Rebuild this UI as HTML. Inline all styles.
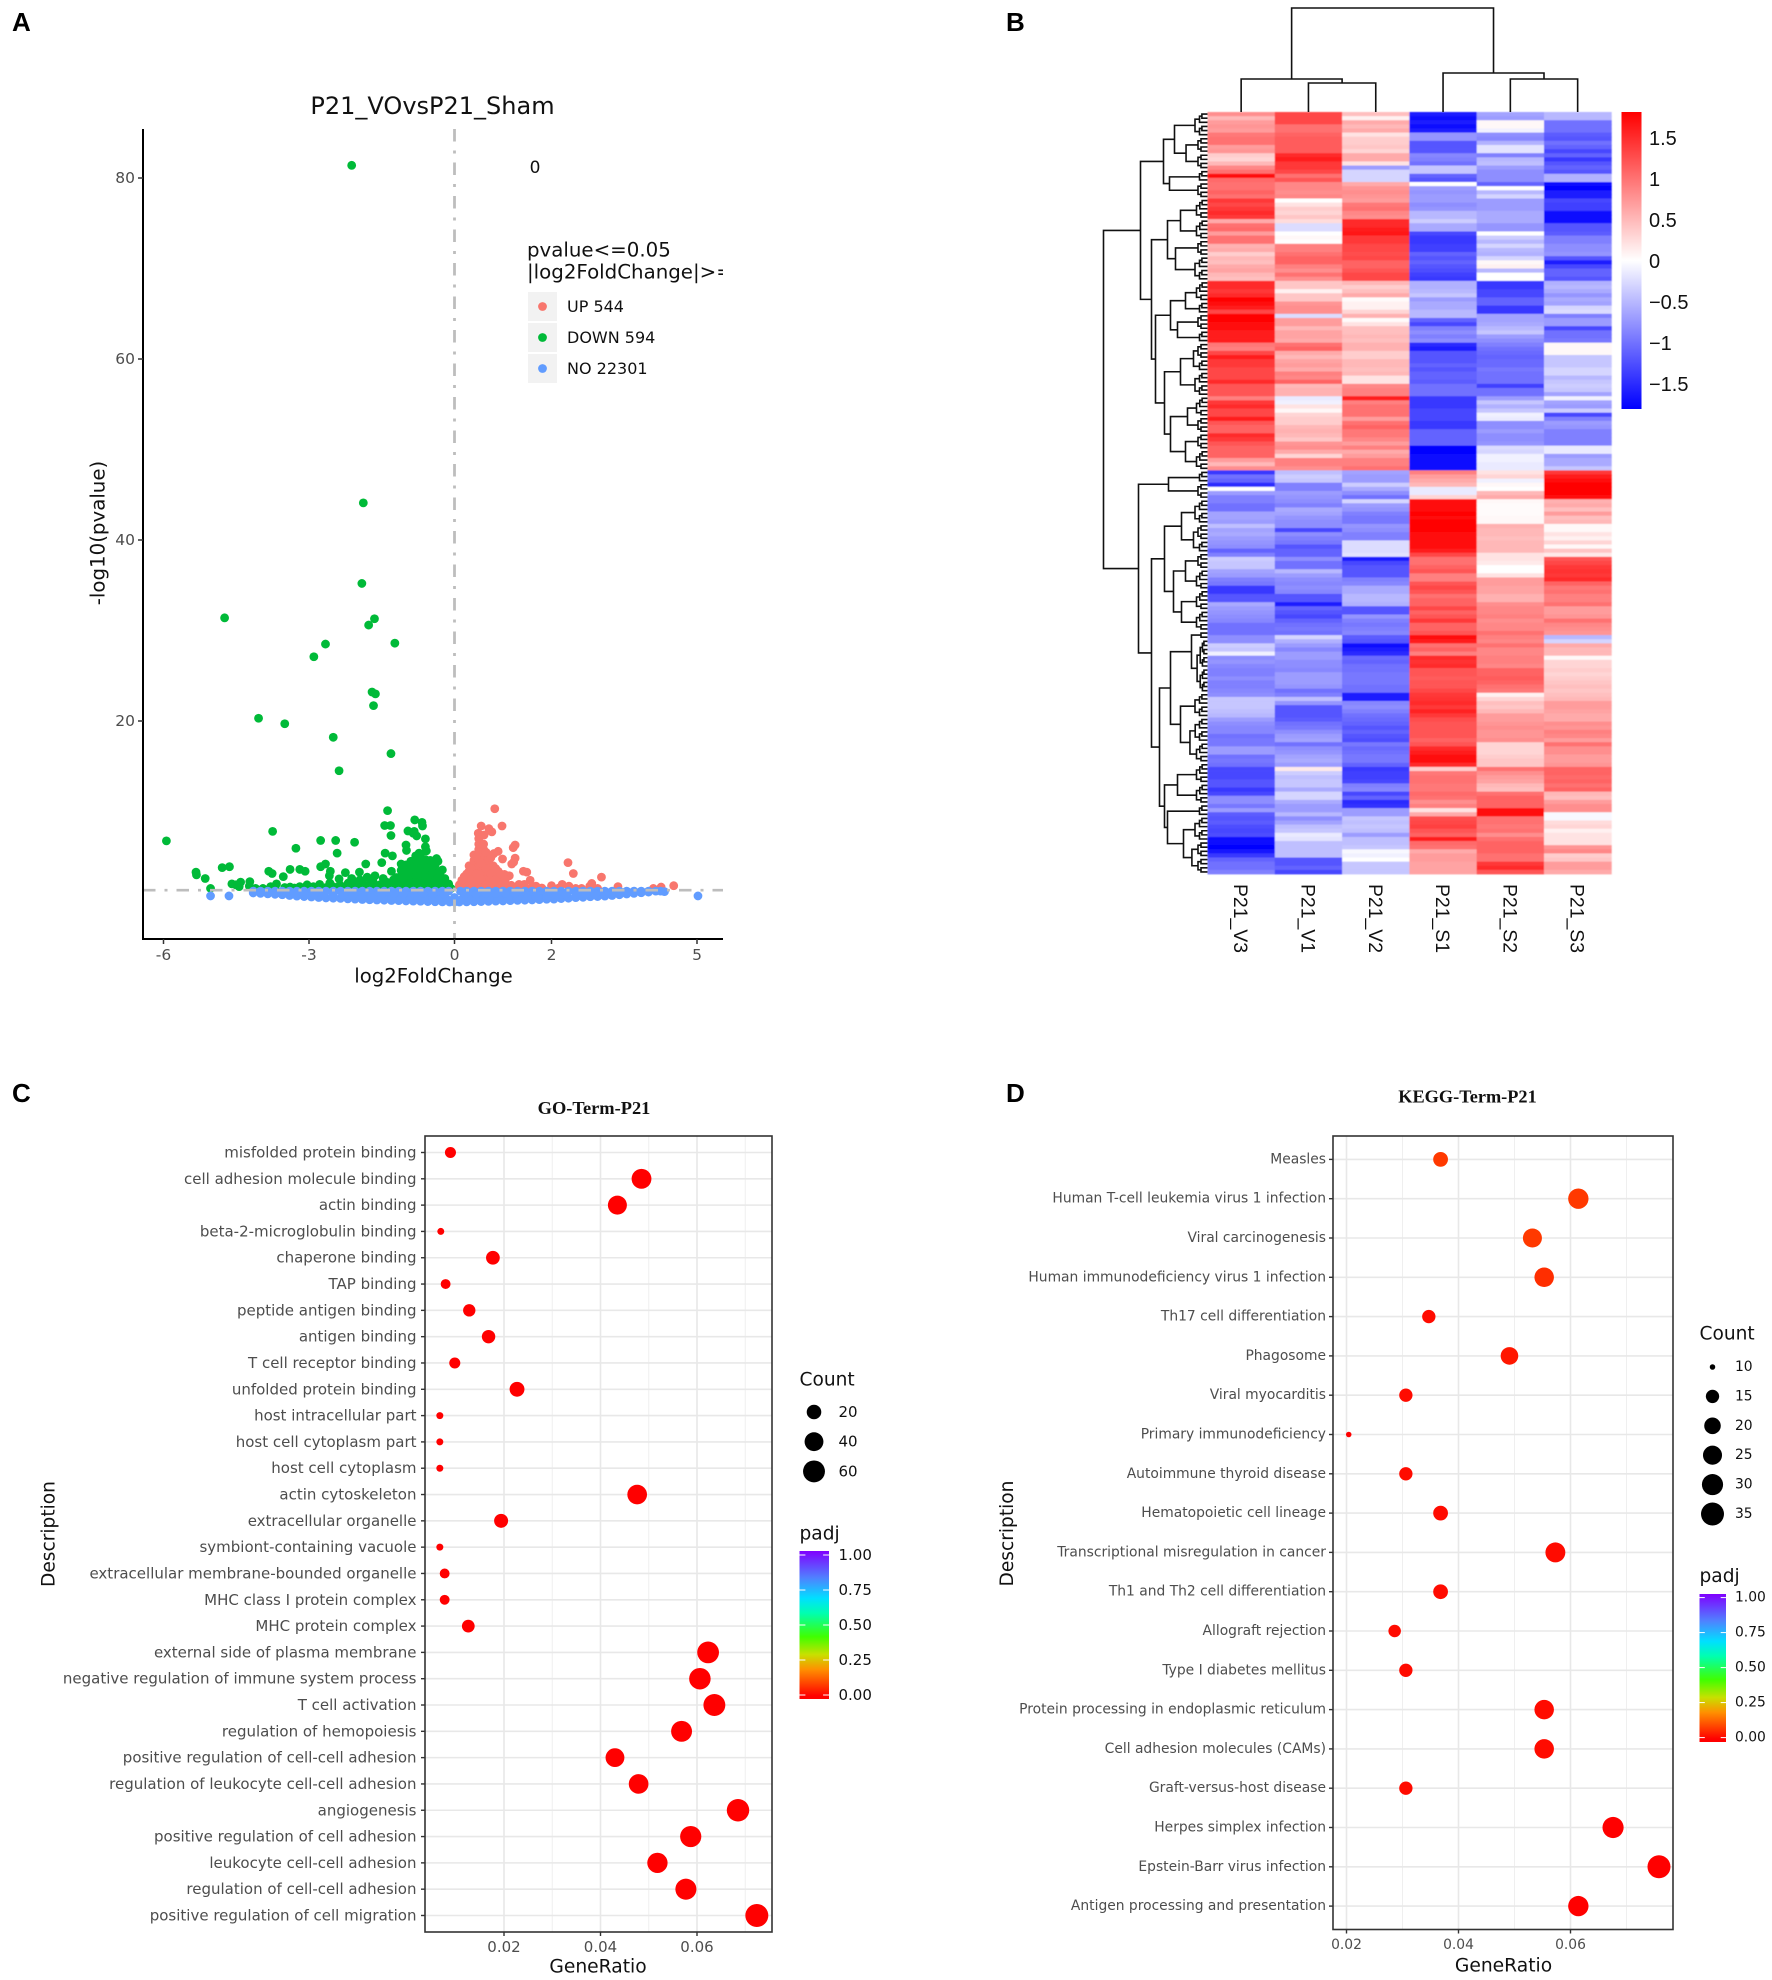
<!DOCTYPE html>
<html lang="en">
<head>
<meta charset="utf-8">
<title>P21 VO vs Sham figure</title>
<style>
html,body{margin:0;padding:0;background:#fff}
svg{display:block}
text{font-family:"DejaVu Sans",sans-serif}
.helv{font-family:"Liberation Sans",sans-serif}
</style>
</head>
<body>
<svg id="fig" xmlns="http://www.w3.org/2000/svg" width="1772" height="1980" viewBox="0 0 1772 1980">
<rect width="1772" height="1980" fill="#fff"/>
<defs>
<clipPath id="legClip"><rect x="500" y="230" width="223" height="60"/></clipPath>
<filter id="soft" x="-2%" y="-2%" width="104%" height="104%"><feGaussianBlur stdDeviation="0.6"/></filter>
<linearGradient id="heatGrad" x1="0" y1="0" x2="0" y2="1"><stop offset="0" stop-color="#ff0000"/><stop offset="0.5" stop-color="#ffffff"/><stop offset="1" stop-color="#0000ff"/></linearGradient>
<linearGradient id="rainbowGrad" x1="0" y1="1" x2="0" y2="0"><stop offset="0.02" stop-color="#ff0000"/><stop offset="0.2" stop-color="#ff9000"/><stop offset="0.3" stop-color="#c8e000"/><stop offset="0.42" stop-color="#40ff00"/><stop offset="0.58" stop-color="#00ffb0"/><stop offset="0.68" stop-color="#00e0ff"/><stop offset="0.82" stop-color="#5080ff"/><stop offset="1" stop-color="#8000ff"/></linearGradient>
</defs>
<g font-weight="bold" font-size="26" fill="#000">
<text class="helv" x="12" y="31">A</text>
<text class="helv" x="1006" y="31">B</text>
<text class="helv" x="12" y="1102">C</text>
<text class="helv" x="1006" y="1102">D</text>
</g>
<g id="volcano"></g>
<g id="heatmap"></g>
<g id="goPlot"></g>
<g id="keggPlot"></g>
</svg>
<script>
/* ---------- Volcano data: [log2FoldChange, -log10(pvalue)] ---------- */
const volcanoXTicks = [-6,-3,0,2,5];
const volcanoYTicks = [20,40,60,80];
const downPoints = [[-2.12,81.4],[-1.88,44.1],[-1.91,35.2],[-1.65,31.3],[-1.77,30.6],[-1.23,28.6],[-2.66,28.5],[-2.9,27.1],[-4.74,31.4],[-1.7,23.2],[-1.63,23],[-1.67,21.7],[-4.04,20.3],[-3.5,19.7],[-2.5,18.2],[-1.31,16.4],[-2.38,14.5],
[-5.94,6.75],[-3.75,7.8],[-3.27,5.94],[-5.33,3.3],[-5.32,3],[-5.14,2.6],[-5.03,1.5],[-4.79,3.8],[-4.64,3.9],[-4.59,2],[-4.51,1.9],[-4.41,2.2],[-4.44,1.7],[-4.22,2.25],[-4.23,1.75],[-3.83,3.4],[-3.76,3.15],[-3.67,2],[-3.79,1.7],
[-3.53,2.8],[-3.39,3.6],[-3.19,3.6],[-3.08,3.4],[-2.76,3.9],[-2.66,4.2],[-2.56,3.4],[-2.58,2.9],[-2.38,2.55],[-2.25,3.25],[-2.12,2.6],[-1.96,3.3],[-1.83,4.2],[-1.8,2.75],[-1.64,2.9],[-1.5,4.35],[-1.3,3.4],[-3.19,1.7],[-3.04,1.9],[-2.78,1.95],[-2.36,1.9],[-2.19,2.1],[-2.05,2.1],[-1.88,2],[-1.68,2.25],[-1.47,2.6],[-1.26,2.45],[-2.57,2.1],[-2.91,1.7],[-3.39,1.65],[-1.95,2.45],[-1.75,1.9],[-1.54,1.9],[-1.33,1.9],[-2.5,1.7],
[-1.38,10.1],[-1.44,8.45],[-1.32,8.45],[-1.31,7.35],[-1.43,5.4],[-1.28,5.1],[-.82,9.07],[-.67,8.8],[-.66,8.4],[-.96,7.85],[-.85,7.6],[-.78,7.3],[-.83,7.8],[-.6,6.97],[-1,6.3],[-.99,5.7],[-.6,6.1],[-.58,5.65],[-.73,5.4],[-.37,4.8],[-.34,4.5],[-.25,3.55],[-2.76,6.8],[-2.45,6.8],[-2.06,6.6],[-2.42,5.4],
[-1.1,1.7],[-1.1,2.3],[-1.1,2.9],[-1.1,3.5],[-1.1,4.2],[-1,1.7],[-1,2.3],[-1,2.9],[-1,3.5],[-1,4.1],[-.9,1.7],[-.9,2.3],[-.9,2.9],[-.9,3.5],[-.9,4.1],[-.9,4.5],[-.8,1.7],[-.8,2.3],[-.8,2.9],[-.8,3.5],[-.8,4.1],[-.8,4.7],[-.8,5.1],[-.7,1.7],[-.7,2.3],[-.7,2.9],[-.7,3.5],[-.7,4.1],[-.7,4.7],[-.7,5.3],[-.6,1.7],[-.6,2.3],[-.6,2.9],[-.6,3.5],[-.6,4.1],[-.6,4.7],[-.5,1.7],[-.5,2.3],[-.5,2.9],[-.5,3.5],[-.5,4.1],[-.5,4.6],[-.4,1.7],[-.4,2.3],[-.4,2.9],[-.4,3.5],[-.4,4.1],[-.3,1.7],[-.3,2.3],[-.3,2.9],[-.3,3.4],[-.2,1.6],[-.2,2.1],[-.2,2.6],[-.12,1.6],[-.12,2],
[-1.2,1.6],[-1.2,2.1],[-1.2,2.7],[-1.3,1.6],[-1.4,1.6],[-1.4,2.2],[-1.5,1.6],[-1.6,1.7],[-1.7,1.6],[-1.85,1.6],[-2,1.6],[-2.15,1.6],[-2.3,1.6],[-2.45,1.55],[-2.65,1.6],[-2.8,1.55],[-3,1.55],[-3.3,1.55],[-3.5,1.6],[-3.7,1.55],[-3.95,1.5],[-4.1,1.5],[-.07,1.5],[-1.05,2.6],[-.95,3.2],[-.85,3.8],[-.75,4.4],[-.65,4.4],[-.55,3.8],[-.45,3.2],[-.35,2.6],[-.25,2],[-.15,1.8]];
const upPoints = [[.83,10.3],[.98,8.4],[.55,8.4],[.49,7.6],[.71,8.1],[.77,7.75],[.61,7.4],[1.25,6.3],[1.21,6],[.9,5.6],[.81,5.35],[.99,4.75],[1.25,4.85],[1.22,4.4],[1.18,4.2],[1.42,3.4],[1.49,3.3],[1.03,3.05],[1.13,2.9],[2.34,4.35],[2.45,3.15],[3.03,2.75],[2.83,2.05],[2.79,1.75],[1.56,2.4],[1.44,1.95],[1.33,1.95],[1.68,1.75],[2,1.8],[2.22,1.95],[2.36,1.75],[3.37,1.7],[2.62,1.5],[4.1,1.5],[4.26,1.65],[4.52,1.8],[1,1.95],[1.17,1.85],[2.95,1.5],
[.1,1.6],[.1,1.9],[.2,1.6],[.2,2.2],[.2,2.8],[.3,1.6],[.3,2.2],[.3,2.8],[.3,3.4],[.3,4],[.4,1.6],[.4,2.2],[.4,2.8],[.4,3.4],[.4,4],[.4,4.6],[.4,5.2],[.5,1.6],[.5,2.2],[.5,2.8],[.5,3.4],[.5,4],[.5,4.6],[.5,5.2],[.5,5.8],[.5,6.4],[.5,7],[.6,1.6],[.6,2.2],[.6,2.8],[.6,3.4],[.6,4],[.6,4.6],[.6,5.2],[.6,5.8],[.6,6.4],[.7,1.6],[.7,2.2],[.7,2.8],[.7,3.4],[.7,4],[.7,4.6],[.7,5.2],[.8,1.6],[.8,2.2],[.8,2.8],[.8,3.4],[.8,4],[.9,1.6],[.9,2.2],[.9,2.8],[.9,3.4],[1,1.6],[1,2.2],[1.1,1.6],
[.25,3.1],[.35,3.7],[.35,2.5],[.45,4.9],[.45,3.1],[.45,1.9],[.55,4.3],[.55,2.5],[.65,5.5],[.65,3.7],[.65,1.9],[.75,4.9],[.75,3.1],[.85,3.7],[.85,2.5],[.95,3.1],[.95,1.9],[1.05,2.5],[1.2,1.6],[1.3,1.6],[1.45,1.55],[1.6,1.6],[1.8,1.55],[2.15,1.55],[2.5,1.5],[.15,2.4]];
const noPoints = [[-5.03,.67],[-4.65,.67],[5.02,.67],
[-4.15,1],[-4,.95],[-3.85,.9],[-3.7,.85],[-3.55,.8],[-3.4,.72],[-3.25,.65],[-3.1,.6],[-2.95,.55],[-2.8,.5],[-2.65,.45],[-2.5,.42],[-2.35,.4],[-2.2,.35],[-2.05,.32],[-1.9,.28],[-1.75,.25],[-1.6,.22],[-1.45,.2],[-1.3,.17],[-1.15,.15],[-1,.12],[-.85,.1],[-.7,.08],[-.55,.05],[-.4,.03],[-.25,.01],[-.1,0],[0,0],[.1,0],[.25,.01],[.4,.03],[.55,.05],[.7,.07],[.85,.1],[1,.12],[1.15,.15],[1.3,.18],[1.45,.2],[1.6,.23],[1.75,.26],[1.9,.3],[2.05,.32],[2.2,.38],[2.35,.42],[2.5,.48],[2.65,.52],[2.8,.58],[2.95,.6],[3.1,.65],[3.25,.72],[3.4,.8],[3.55,.88],[3.7,.95],[3.85,1.02],[4,1.1],
[-4.15,1.2],[-4,1.2],[-3.85,1.2],[-3.7,1.2],[-3.55,1.2],[-3.4,1.2],[-3.25,1.2],[-3.1,1.2],[-2.95,1.2],[-2.8,1.2],[-2.65,1.2],[-2.5,1.2],[-2.35,1.2],[-2.2,1.2],[-2.05,1.2],[-1.9,1.2],[-1.75,1.2],[-1.6,1.2],[-1.45,1.2],[-1.3,1.2],[-1.15,1.2],[-1,1.2],[-.85,1.2],[-.7,1.2],[-.55,1.2],[-.4,1.2],[-.25,1.2],[-.12,1.2],[0,.5],[.12,1.2],[.25,1.2],[.4,1.2],[.55,1.2],[.7,1.2],[.85,1.2],[1,1.2],[1.15,1.2],[1.3,1.2],[1.45,1.2],[1.6,1.2],[1.75,1.2],[1.9,1.2],[2.05,1.2],[2.2,1.2],[2.35,1.2],[2.5,1.2],[2.65,1.2],[2.8,1.2],[2.95,1.2],[3.1,1.2],[3.25,1.2],[3.4,1.2],[3.55,1.2],[3.7,1.2],[3.85,1.2],[4,1.2],[4.15,1.2],[4.25,1.2],[4.33,1.15],
[-2.2,.7],[-2,.7],[-1.8,.7],[-1.6,.7],[-1.4,.7],[-1.2,.7],[-1,.7],[-.8,.65],[-.6,.6],[-.4,.6],[-.2,.55],[.2,.55],[.4,.6],[.6,.6],[.8,.65],[1,.7],[1.2,.7],[1.4,.7],[1.6,.7],[1.8,.7],[2,.75],[2.2,.8],
[-3.5,1],[-3.3,.95],[-3.1,.9],[-2.9,.85],[-2.7,.85],[-2.5,.8],[-2.3,.8],[-2.1,.75],[-1.9,.75],[-1.7,.75],[-1.5,.7],[-1.3,.7],[-1.1,.7],[-.9,.7],[-.7,.7],[-.5,.65],[-.3,.65],[.3,.65],[.5,.65],[.7,.7],[.9,.7],[1.1,.7],[1.3,.75],[1.5,.75],[1.7,.75],[1.9,.8],[2.1,.8],[2.3,.85],[2.5,.85],[2.7,.9],[2.9,.9],[3.1,.95],[3.3,1],[3.5,1.05],
[-1.9,.45],[-1.7,.45],[-1.5,.42],[-1.3,.4],[-1.1,.38],[-.9,.35],[-.75,.35],[-.6,.32],[-.45,.3],[-.3,.3],[-.15,.28],[0,.25],[.15,.28],[.3,.3],[.45,.3],[.6,.32],[.75,.35],[.9,.35],[1.1,.38],[1.3,.4],[1.5,.45],[1.7,.48],[1.9,.5],[-.22,.9],[-.45,.9],[-.65,.95],[-.85,.95],[-1.05,.95],[-1.25,.95],[.22,.9],[.45,.9],[.65,.95],[.85,.95],[1.05,.95],[1.25,.95]];
const volcanoLegendLabels = ["UP 544","DOWN 594","NO 22301"];

/* ---------- Heatmap data: z-scores per row for each sample column ---------- */
const sampleLabels = ["P21_V3","P21_V1","P21_V2","P21_S1","P21_S2","P21_S3"];
const heatLegendTicks = [1.5,1,.5,0,-.5,-1,-1.5];
const colV3 = [.8,.5,.7,.75,.7,.95,1,1,.7,.75,.35,.3,.5,.85,1,1.7,1.05,1,1,1.1,1,1.4,1.3,1.4,1.5,1.4,.6,1,1.05,.7,1,1,.55,.6,.35,.5,.45,.6,.65,.5,.45,1.5,1.5,1.4,1.5,1.8,1.7,1.6,1.3,1.8,1.8,1.7,1.7,1.6,1.6,1.6,.95,.9,1.3,1.6,1.4,1.4,1.3,1.3,1.3,1.5,1.2,1.2,1.2,.9,1.4,1.5,1.3,1.3,1.6,1.2,1.1,1.1,1.5,1.4,1.2,1.1,1.1,1.1,.7,.5,.8,-1.4,-1,-1.1,-1.5,0,-.7,-.9,-.9,-1,-1,-.65,-.65,-.7,-.45,-.65,-.6,-.7,-.75,-.8,-1.1,-.9,-.35,-.4,-.4,-.65,-.7,-.9,-.95,-1.4,-1.4,-1.2,-1.2,-.6,-.7,-.75,-.8,-.85,-1,-1,-1,-.8,-.8,-.35,-.4,-.1,-.8,-.75,-.85,-.9,-.9,-.8,-.9,-.9,-.85,-.8,-.4,-.4,-.4,-.45,-.5,-.7,-.8,-.85,-.85,-1,-.95,-.95,-.7,-.7,-1,-.95,-1,-1.3,-1.3,-1.3,-1.2,-1.2,-1.4,-1.3,-.8,-.8,-.95,-.7,-1.15,-1.2,-1.15,-1.25,-1.3,-1.25,-1.7,-1.75,-1.8,-1.65,-1.4,-1.1,-1,-1,-.9];
const colV1 = [1.3,1.3,1.3,1,1,1.1,1.15,1.15,1.15,1.15,1.5,1.6,1.4,1.4,1.3,1,1.2,.85,.85,.8,.85,0,.2,.35,.3,.4,.25,-.25,-.25,0,.05,0,.9,.9,1,1.1,1.1,.9,.8,1,.8,.4,.4,.1,.4,.4,.75,.8,.8,-.25,.7,.7,.5,.65,.65,.6,1,1.1,.6,.5,.65,.7,.6,.9,.85,1.1,.5,.55,.55,-.15,-.1,.2,.05,.3,.35,.35,.5,.55,.5,.4,.75,.8,.6,.3,.9,.9,.8,-.45,-.35,-.4,-.9,-.9,-.7,-.75,-.8,-.9,-.6,-.65,-.75,-.8,-.8,-1.3,-.8,-.9,-.95,-1.2,-1.1,-1.1,-.8,-1,-1,-.5,-.7,-.8,-.85,-.8,-.85,-1.2,-1.2,-1.6,-1.1,-1.2,-1.3,-1.1,-1,-.95,-1,-.3,-.55,-.7,-.85,-.7,-.7,-.8,-.8,-.85,-.7,-.7,-.7,-.75,-1,-.9,-.45,-.75,-1.2,-1.2,-1.2,-1.15,-1,-.95,-.8,-.7,-.65,-1,-.8,-.75,-.65,-.6,-.7,.15,-.35,-.45,-.4,-.4,-.6,-.3,-.3,-.6,-.7,-.7,-.5,-.8,-.65,-.45,-.4,-.15,-.2,-.45,-.45,-.45,-.45,-1.2,-1.2,-1.1,-1.3];
const colV2 = [.45,.1,.6,.5,.6,.2,.35,.35,.4,.3,.6,.6,.2,-.7,-.3,-.3,-.3,.6,.75,.8,.75,.7,.95,1,.85,.8,1.5,1.5,1.6,1.65,1.4,1.4,1.3,1.3,1.25,1.3,1.1,1.1,1.2,1.3,1.3,.5,.35,.45,.6,.03,.1,.1,.3,.55,.03,.2,.45,.45,.5,.45,.55,.55,.35,.35,.5,.5,.45,.5,.2,.2,.85,.9,.9,1.6,.9,1,1,1,.7,1,1.1,.95,.95,.85,.7,.9,.6,.7,.9,.9,1,-.65,-.7,-.7,-.35,-.6,-.8,-1,-.3,-.7,-.75,-.9,-.95,-.95,-.75,-.8,-.9,-.9,-.25,-.25,-.25,-.2,-1.6,-1.3,-1.2,-1.2,-1.2,-.9,-.85,-.6,-.6,-.5,-.5,-.55,-1.2,-1.2,-.75,-.9,-.95,-.9,-.85,-1.15,-1.2,-1.7,-1.6,-1.5,-1.05,-1.1,-1,-1,-.95,-.95,-.95,-1,-1,-1.6,-1.6,-.85,-.8,-.9,-1,-1.05,-1.1,-1.2,-1.1,-1.2,-1.25,-.95,-1.05,-1,-.95,-.95,-1.1,-1.4,-1.35,-1.35,-1.3,-.9,-.85,-1.3,-1.1,-1.5,-1.45,-.7,-.7,-.4,-.45,-.4,-.45,-.7,-.45,-.45,-.4,-.05,-.1,0,-.4,-.4,-.4];
const colS1 = [-1.6,-1.7,-1.6,-1.7,-1.6,-.75,-.75,-1.2,-1.2,-1.2,-.85,-.9,-1,-.4,-.4,-1.1,-1.2,0,-.7,-.75,-.7,-.7,-.8,-.75,-.5,-.5,-.35,-.6,-.6,-1.3,-1.4,-1.4,-1.35,-1.35,-1.1,-1.2,-1.1,-1.2,-1.25,-1.35,-1.4,-.55,-.55,-.5,-.4,-.7,-.6,-.6,-.5,-.5,-1.1,-1.3,-.9,-.8,-.9,-.8,-1.5,-1.6,-1.2,-1.2,-1.2,-1.1,-1.2,-1.1,-1.1,-1.15,-1,-1,-1,-1.4,-1.4,-1.4,-1.3,-1.3,-1.3,-1.4,-1.4,-1.1,-1.1,-1.1,-1.1,-1.8,-1.8,-1.7,-1.7,-1.7,-1.7,.9,.7,.6,.5,-.15,-.15,.3,1.75,1.7,1.75,1.8,1.75,1.8,1.8,1.8,1.7,1.75,1.7,1.7,1.6,1.3,1,1,1.1,1.2,.9,.9,1.2,1.3,1.2,1,1.1,1.1,1.3,1.1,1.2,1.4,1.1,1.1,1.2,1.7,1.6,1,1.1,.9,1.5,1.45,1.5,1.2,1.2,1.15,1.2,1.2,1.3,1.4,1.45,1.5,1.4,1.55,1.4,1.25,1.2,1.2,1.2,1.2,1.1,1.2,1.5,1.6,1.7,1.75,1.5,.35,.95,1,1,.95,.95,1.05,1,.8,.9,.2,.6,1.25,1.3,1.35,1.2,1.1,1.6,1.05,1,.6,.7,.7,.65,.65,.65];
const colS2 = [-.65,-.7,.05,.05,-.1,-.8,-.85,-.55,-.2,-.2,-.9,-.5,-.45,-.7,-.8,-.8,-.8,-1.1,0,-.5,-.3,-.7,-.7,-.7,-.6,-.6,-.6,-.75,-.75,0,-.35,-.5,-.3,-.5,-.55,-.3,.05,.1,-.5,0,0,-1.4,-1.4,-1.3,-1.3,-1.1,-1.1,-1.4,-1.4,-.65,-.65,-.6,-.5,-.4,-.7,-.8,-.9,-1,-1.05,-1.1,-1.05,-1.05,-.95,-1,-1,-1,-1.35,-1,-1,-.7,-.4,-.55,-.4,-.1,-.15,-.8,-.8,-.7,-.8,-.8,-.75,-.25,-.3,-.1,-.1,-.15,-.15,.2,.3,-.1,.05,0,.5,.6,.05,.03,.03,.03,.05,.05,.55,.5,.5,.45,.5,.5,.5,.2,.2,.15,0,0,.2,.7,.7,.65,.65,.55,.55,.8,.85,.85,.9,.8,.85,.85,1,.9,.85,1,.85,.85,.9,.9,.85,1.1,1.1,1.15,1.1,1,.95,.1,.3,.45,.4,.5,.7,.7,.75,.8,.75,.75,.8,.3,.3,.3,.35,.4,.4,1,.8,.7,.65,.5,.45,1,1.1,1.1,1.1,1.75,1.7,1,1,.95,1,.8,1,1.1,1.1,1.1,1,1,1.4,1.5,1.2];
const colS3 = [-.5,-.5,-1,-1,-1,-1.15,-1.2,-1,-1.1,-1.3,-1.1,-1.4,-1.2,-1.1,-1.2,-.55,-.55,-1.7,-1.8,-1.6,-1.6,-1.3,-1.35,-1.35,-1.7,-1.7,-1.7,-1.2,-1.2,-1.15,-.9,-.9,-.8,-.8,-.75,-1.2,-1.6,-1.3,-1.1,-1.1,-1.2,-.55,-.5,-.6,-.75,-.6,-.65,-.3,-.25,-.9,-.7,-.7,-1.3,-1,-1,-.95,.05,.05,.05,-.4,-.4,-.4,-.3,-.3,-.5,-.4,-.35,-.4,-.65,-.1,-.65,-.7,-.35,-1.3,-.9,-.7,-.75,-.9,-.9,-.9,-.9,-.15,-.15,-.7,-.6,-.6,-.4,1.4,1.6,1.7,1.8,1.8,1.8,1.7,.55,.6,.45,.7,.45,.5,.05,.05,.2,.1,.3,.05,.4,.15,1.2,1.3,1.4,1.45,1.4,1.5,1.1,.95,1,.9,.9,1,.7,.7,.75,1,.85,.8,.75,-.5,-.3,.6,.5,.5,.05,.3,.3,.35,.3,.35,.4,.45,.4,.45,.5,.7,.7,.65,.6,.6,.8,.75,.9,.85,.7,1,.8,.8,.7,.7,.75,1.1,1.1,1.05,1.1,1,1.1,.5,.45,.7,.8,.8,-.05,-.05,.25,.3,.1,.2,.2,.2,.75,.85,.35,.4,.7,.7,.6];
const heatColumns = [colV3,colV1,colV2,colS1,colS2,colS3];
/* Dendrograms: [mergeHeight, left, right]; numbers in the row tree are leaf runs, in the column tree are column indexes */
const rowTree = [104,
 [67,
  [44,[33,6,8],[38,3,4]],
  [56,[40,[27,5,5],[32,4,6]],[52,[37,[22,5,3],[30,4,3]],[43,[27,7,6],[37,[20,5,4],[22,4,5]]]]]],
 [69,
  [39,3,4],
  [56,
   [43,[26,6,7],[34,[22,4,5],[26,5,5]]],
   [48,[37,[16,2,13],[27,6,11]],[43,[30,5,5],[40,3,[24,6,8]]]]]]];
const colTree = [104,[33,0,[29,1,2]],[39,3,[33,4,5]]];

/* ---------- GO dot plot data ---------- */
const goTerms = ["misfolded protein binding","cell adhesion molecule binding","actin binding","beta-2-microglobulin binding","chaperone binding","TAP binding","peptide antigen binding","antigen binding","T cell receptor binding","unfolded protein binding","host intracellular part","host cell cytoplasm part","host cell cytoplasm","actin cytoskeleton","extracellular organelle","symbiont-containing vacuole","extracellular membrane-bounded organelle","MHC class I protein complex","MHC protein complex","external side of plasma membrane","negative regulation of immune system process","T cell activation","regulation of hemopoiesis","positive regulation of cell-cell adhesion","regulation of leukocyte cell-cell adhesion","angiogenesis","positive regulation of cell adhesion","leukocyte cell-cell adhesion","regulation of cell-cell adhesion","positive regulation of cell migration"];
const goRatio = [.0089,.0485,.0435,.0069,.0177,.0079,.0128,.0168,.0098,.0227,.0067,.0067,.0067,.0476,.0194,.0067,.0077,.0077,.0126,.0623,.0606,.0636,.0568,.043,.0479,.0685,.0587,.0518,.0577,.0724];
const goCount = [10,46,41,6,17,8,13,16,10,21,6,6,6,45,18,6,8,8,14,59,57,60,53,40,45,64,55,49,54,68];
const goPadj = [0,0,0,0,0,0,0,0,0,0,0,0,0,0,0,0,0,0,0,0,0,0,0,0,0,0,0,0,0,0];
const goXTicks = [.02,.04,.06];
const goXMinor = [.03,.05,.07];
const goCountLegend = [20,40,60];
const padjTicks = [0,.25,.5,.75,1];
/* ---------- KEGG dot plot data ---------- */
const keggTerms = ["Measles","Human T-cell leukemia virus 1 infection","Viral carcinogenesis","Human immunodeficiency virus 1 infection","Th17 cell differentiation","Phagosome","Viral myocarditis","Primary immunodeficiency","Autoimmune thyroid disease","Hematopoietic cell lineage","Transcriptional misregulation in cancer","Th1 and Th2 cell differentiation","Allograft rejection","Type I diabetes mellitus","Protein processing in endoplasmic reticulum","Cell adhesion molecules (CAMs)","Graft-versus-host disease","Herpes simplex infection","Epstein-Barr virus infection","Antigen processing and presentation"];
const keggRatio = [.0368,.0614,.0532,.0553,.0347,.0491,.0306,.0204,.0306,.0368,.0573,.0368,.0286,.0306,.0553,.0553,.0306,.0676,.0758,.0614];
const keggCount = [17,28,25,26,15,22,15,10,15,17,27,17,14,15,26,26,15,30,35,28];
const keggPadj = [.05,.05,.05,.04,.01,.02,.01,0,.01,.01,.01,.01,.01,.01,.01,.01,.01,0,0,0];
const keggXTicks = [.02,.04,.06];
const keggXMinor = [.03,.05,.07];
const keggCountLegend = [10,15,20,25,30,35];

/* ---------- helpers ---------- */
const NS = "http://www.w3.org/2000/svg";
function mk(parent, tag, attrs){
  const e = document.createElementNS(NS, tag);
  for (const k in attrs) e.setAttribute(k, attrs[k]);
  parent.appendChild(e);
  return e;
}
function txt(parent, s, x, y, size, fill, anchor, rot, cls){
  const e = mk(parent, "text", {x:x, y:y, "font-size":size, fill:fill, "text-anchor":anchor||"start", "dominant-baseline":"central"});
  if (rot) e.setAttribute("transform", "rotate("+rot+" "+x+" "+y+")");
  if (cls) e.setAttribute("class", cls);
  e.textContent = s;
  return e;
}
function fmt2(v){ return v.toFixed(2); }
function padjColor(p){ return "hsl("+(p*270)+",100%,50%)"; }

/* ---------- Panel A ---------- */
(function(){
  const g = document.getElementById("volcano");
  const xV = v => 454.5 + 48.5*v;
  const yV = v => 902 - 9.05*v;
  const addTitle = txt(g, "P21_VOvsP21_Sham", 432.5, 106, 24, "#111", "middle");
  
  
  function dots(arr, color, name){
    const sg = mk(g, "g", {fill:color});
    
    
    arr.forEach(p => {
      const c = mk(sg, "circle", {cx:xV(p[0]), cy:yV(p[1]), r:4.4});
      
      
    });
  }
  dots(upPoints, "#F8766D", "up-point");
  dots(downPoints, "#00BA38", "down-point");
  dots(noPoints, "#619CFF", "no-change-point");
  const h = mk(g, "line", {x1:143, x2:723, y1:yV(1.3), y2:yV(1.3), stroke:"#bdbdbd", "stroke-width":2.6, "stroke-dasharray":"12.5 9 3 9"});
  
  
  const v = mk(g, "line", {x1:xV(0), x2:xV(0), y1:129, y2:939, stroke:"#bdbdbd", "stroke-width":2.8, "stroke-dasharray":"12.5 9 3 9"});
  
  
  const ax = mk(g, "path", {d:"M143 129V939H723", fill:"none", stroke:"#000", "stroke-width":2});
  
  
  volcanoXTicks.forEach(t => {
    const l = mk(g, "line", {x1:xV(t), x2:xV(t), y1:939, y2:944, stroke:"#333", "stroke-width":1.5});
    
    
    const e = txt(g, String(t), xV(t), 955, 15.5, "#4d4d4d", "middle");
    
    
  });
  volcanoYTicks.forEach(t => {
    const l = mk(g, "line", {x1:138, x2:143, y1:yV(t), y2:yV(t), stroke:"#333", "stroke-width":1.5});
    
    
    const e = txt(g, String(t), 135, yV(t), 15.5, "#4d4d4d", "end");
    
    
  });
  const xt = txt(g, "log2FoldChange", 433.5, 976, 19.7, "#111", "middle");
  
  
  const yt = txt(g, "-log10(pvalue)", 98, 533, 19.8, "#111", "middle", -90);
  
  
  const zero = txt(g, "0", 535, 168, 17, "#111", "middle");
  
  
  const l1 = txt(g, "pvalue<=0.05", 527, 250, 19.8, "#111");
  
  
  const l2 = txt(g, "|log2FoldChange|>=1", 527, 272, 19.8, "#111");
  l2.setAttribute("clip-path", "url(#legClip)");
  
  
  const cols = ["#F8766D","#00BA38","#619CFF"];
  volcanoLegendLabels.forEach((s,i) => {
    const yc = 306.5 + 31*i;
    const r = mk(g, "rect", {x:528, y:yc-14.5, width:29, height:29, fill:"#f2f2f2"});
    
    
    const c = mk(g, "circle", {cx:542.5, cy:yc, r:4.4, fill:cols[i]});
    
    
    const e = txt(g, s, 567, yc, 16, "#111");
    
    
  });
})();

/* ---------- Panel B ---------- */
(function(){
  const g = document.getElementById("heatmap");
  const L = 1207.5, T = 112, CW = 67.3, RH = 762/185;
  function heatColor(v){
    const t = Math.max(-1, Math.min(1, v/1.8));
    if (t >= 0) { const c = Math.round(255*(1-t)); return "rgb(255,"+c+","+c+")"; }
    const c = Math.round(255*(1+t)); return "rgb("+c+","+c+",255)";
  }
  const cells = mk(g, "g", {filter:"url(#soft)"});
  
  
  heatColumns.forEach((col,ci) => {
    const cg = mk(cells, "g", {});
    
    
    col.forEach((v,ri) => {
      const r = mk(cg, "rect", {x:L+ci*CW, y:T+ri*RH, width:CW+.4, height:RH+.4, fill:heatColor(v)});
      
      
    });
  });
  /* row dendrogram */
  const dg = mk(g, "g", {fill:"none", stroke:"#111", "stroke-width":1.6});
  
  
  let rowCursor = 0;
  function seg(pg, d){ mk(pg, "path", {d:d}); }
  function drawRun(n, cap){
    if (n === 1) { const y = T + (rowCursor + .5)*RH; rowCursor++; return {y:y, h:0}; }
    const a = Math.ceil(n/2), b = n - a;
    const h = n >= 8 ? cap*.65 : Math.min(cap*.7, 3.5 + n*1.5);
    const c1 = drawRun(a, h), c2 = drawRun(b, h);
    return joinRow(h, c1, c2);
  }
  function joinRow(h, c1, c2){
    const x = L - h;
    seg(dg, "M"+(L-c1.h)+" "+c1.y+"H"+x+"V"+c2.y+"H"+(L-c2.h));
    return {y:(c1.y+c2.y)/2, h:h};
  }
  function drawRowNode(node, cap){
    if (typeof node === "number") return drawRun(node, cap);
    const c1 = drawRowNode(node[1], node[0]);
    const c2 = drawRowNode(node[2], node[0]);
    return joinRow(node[0], c1, c2);
  }
  drawRowNode(rowTree, 104);
  /* column dendrogram */
  const cd = mk(g, "g", {fill:"none", stroke:"#111", "stroke-width":1.6});
  
  
  function drawColNode(node){
    if (typeof node === "number") return {x:L + (node+.5)*CW, h:0};
    const c1 = drawColNode(node[1]), c2 = drawColNode(node[2]);
    const y = T - node[0];
    mk(cd, "path", {d:"M"+c1.x+" "+(T-c1.h)+"V"+y+"H"+c2.x+"V"+(T-c2.h)});
    return {x:(c1.x+c2.x)/2, h:node[0]};
  }
  drawColNode(colTree);
  /* sample labels */
  sampleLabels.forEach((s,i) => {
    const x = L + (i+.5)*CW - 1, y = 884;
    const e = txt(g, s, x, y, 19.4, "#111", "start", 90, "helv");
    
    
  });
  /* colour bar */
  const cb = mk(g, "rect", {x:1621.5, y:112, width:20, height:297, fill:"url(#heatGrad)"});
  
  
  heatLegendTicks.forEach(t => {
    const s = t < 0 ? "\u2212" + Math.abs(t) : String(t);
    const e = txt(g, s, 1649, 262 - t*82, 20, "#111", "start", 0, "helv");
    
    
  });
})();

/* ---------- Panels C & D ---------- */
function dotPlot(cfg){
  const g = document.getElementById(cfg.id);
  const xP = v => cfg.x02 + (v-.02)*cfg.xPerUnit;
  const yP = i => cfg.y0 + i*cfg.dy;
  const bg = mk(g, "rect", {x:cfg.left, y:cfg.top, width:cfg.right-cfg.left, height:cfg.bottom-cfg.top, fill:"#fff"});
  
  
  cfg.minor.forEach(t => {
    const l = mk(g, "line", {x1:xP(t), x2:xP(t), y1:cfg.top, y2:cfg.bottom, stroke:"#efefef", "stroke-width":1});
    
    
  });
  cfg.major.forEach(t => {
    const l = mk(g, "line", {x1:xP(t), x2:xP(t), y1:cfg.top, y2:cfg.bottom, stroke:"#e8e8e8", "stroke-width":1.6});
    
    
  });
  cfg.terms.forEach((s,i) => {
    const y = yP(i);
    const gl = mk(g, "line", {x1:cfg.left, x2:cfg.right, y1:y, y2:y, stroke:"#e8e8e8", "stroke-width":1.6});
    
    
    const tk = mk(g, "line", {x1:cfg.left-4, x2:cfg.left, y1:y, y2:y, stroke:"#333", "stroke-width":1.4});
    
    
    const e = txt(g, s, cfg.left-cfg.labelGap, y, cfg.fs, "#4d4d4d", "end");
    
    
  });
  cfg.terms.forEach((s,i) => {
    const c = mk(g, "circle", {cx:xP(cfg.ratio[i]), cy:yP(i), r:cfg.diam(cfg.count[i])/2, fill:padjColor(cfg.padj[i])});
    
    
  });
  const box = mk(g, "rect", {x:cfg.left, y:cfg.top, width:cfg.right-cfg.left, height:cfg.bottom-cfg.top, fill:"none", stroke:"#333", "stroke-width":1.6});
  
  
  cfg.major.forEach(t => {
    const l = mk(g, "line", {x1:xP(t), x2:xP(t), y1:cfg.bottom, y2:cfg.bottom+4, stroke:"#333", "stroke-width":1.4});
    
    
    const e = txt(g, fmt2(t), xP(t), cfg.tickY, cfg.fs, "#4d4d4d", "middle");
    
    
  });
  const tt = txt(g, cfg.title, cfg.titleX, cfg.titleY, cfg.titleFs, "#111", "middle");
  tt.setAttribute("style", "font-family:'Liberation Serif',serif");
  tt.setAttribute("font-weight", "bold");
  
  
  const xt = txt(g, "GeneRatio", cfg.xtX, cfg.xtY, 18.7, "#111", "middle");
  
  
  const yt = txt(g, "Description", cfg.ytX, cfg.ytY, 18.6, "#111", "middle", -90);
  
  
  /* Count legend */
  const ct = txt(g, "Count", cfg.legX, cfg.countY, 18.6, "#111");
  
  
  cfg.countLegend.forEach((n,i) => {
    const y = cfg.countRow0 + i*cfg.countRowH;
    const c = mk(g, "circle", {cx:cfg.legDotX, cy:y, r:cfg.diam(n)/2, fill:"#000"});
    
    
    const e = txt(g, String(n), cfg.legLabelX, y, cfg.fs, "#111");
    
    
  });
  /* padj legend */
  const pt = txt(g, "padj", cfg.legX, cfg.padjY, 18.6, "#111");
  
  
  const bar = mk(g, "rect", {x:cfg.legX, y:cfg.barTop, width:cfg.barW, height:cfg.barBot-cfg.barTop, fill:"url(#rainbowGrad)"});
  
  
  padjTicks.forEach(t => {
    const y = cfg.bar0 + (cfg.bar1-cfg.bar0)*t;
    const a = mk(g, "line", {x1:cfg.legX, x2:cfg.legX+cfg.barW/5, y1:y, y2:y, stroke:"#fff", "stroke-width":1});
    
    
    const b = mk(g, "line", {x1:cfg.legX+cfg.barW*.8, x2:cfg.legX+cfg.barW, y1:y, y2:y, stroke:"#fff", "stroke-width":1});
    
    
    const e = txt(g, fmt2(t), cfg.legLabelX, y, cfg.fs, "#111");
    
    
  });
}
dotPlot({id:"goPlot", terms:goTerms, ratio:goRatio, count:goCount, padj:goPadj, major:goXTicks, minor:goXMinor, countLegend:goCountLegend,
  diam:c => 7 + 2.03*Math.sqrt(Math.max(0,c-6)), fs:15, labelGap:8.5,
  left:425, right:772, top:1136, bottom:1932, x02:504, xPerUnit:4825, y0:1152.5, dy:26.31, tickY:1947,
  title:"GO-Term-P21", titleFs:18.4, titleX:594, titleY:1108, xtX:598, xtY:1967, ytX:49, ytY:1534,
  legX:799.5, countY:1380, legDotX:814, countRow0:1412, countRowH:29.7, legLabelX:838.5, padjY:1534,
  barTop:1551, barBot:1699, barW:29.5, bar0:1695, bar1:1555});
dotPlot({id:"keggPlot", terms:keggTerms, ratio:keggRatio, count:keggCount, padj:keggPadj, major:keggXTicks, minor:keggXMinor, countLegend:keggCountLegend,
  diam:c => 5.5 + 3.5*Math.sqrt(Math.max(0,c-10)), fs:13.85, labelGap:7,
  left:1333, right:1673, top:1136, bottom:1929.5, x02:1346.5, xPerUnit:5600, y0:1159.4, dy:39.3, tickY:1945,
  title:"KEGG-Term-P21", titleFs:18.3, titleX:1467.5, titleY:1096.5, xtX:1503.5, xtY:1966, ytX:1007.5, ytY:1533.5,
  legX:1699.5, countY:1334, legDotX:1712.5, countRow0:1367, countRowH:29.4, legLabelX:1735, padjY:1576.5,
  barTop:1594, barBot:1742, barW:26.5, bar0:1737.6, bar1:1597.6});
</script>
</body>
</html>
